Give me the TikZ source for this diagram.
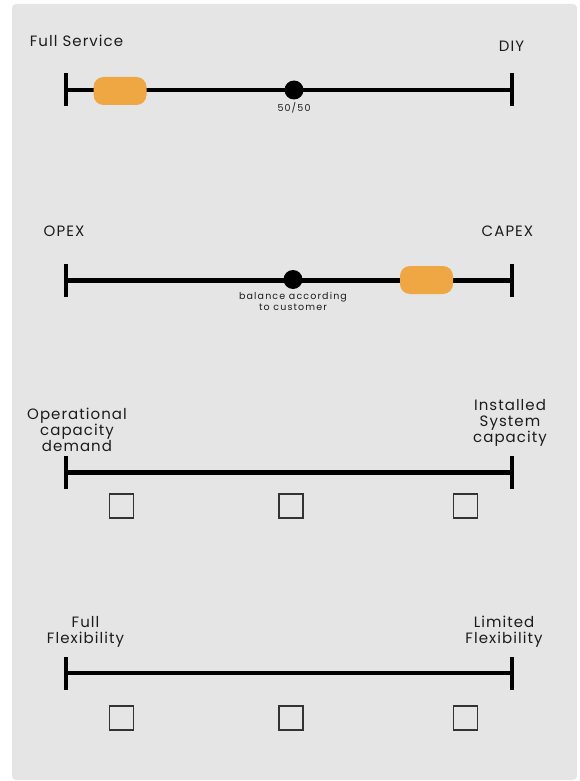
\documentclass[tikz,border=0pt]{standalone}
\usepackage{fontspec}
\setmainfont{Poppins}[LetterSpace=7]
\usetikzlibrary{positioning}
\definecolor{panelgray}{HTML}{E5E5E5}
\definecolor{pillorange}{HTML}{EFA743}
\definecolor{ink}{HTML}{1C1C1C}
\definecolor{boxline}{HTML}{333333}
\tikzset{
  scaleline/.style={line width=4.5pt, black},
  endtick/.style={
    fill=black,
    inner sep=0pt,
    minimum width=3.2pt,
    minimum height=33pt
  },
  pill/.style={
    fill=pillorange,
    rounded corners=10pt,
    inner sep=0pt,
    minimum width=53pt,
    minimum height=28pt
  },
  middot/.style={circle, fill=black, inner sep=0pt, minimum size=19pt},
  endlabel/.style={
    text=ink,
    align=center,
    inner sep=0pt,
    font=\fontsize{15}{16}\selectfont
  },
  smalllabel/.style={
    text=ink,
    align=center,
    inner sep=0pt,
    font=\fontsize{9.5}{11}\selectfont\addfontfeature{LetterSpace=12}
  },
  checkbox/.style={
    draw=boxline,
    line width=1.3pt,
    inner sep=0pt,
    minimum size=24pt
  },
  panel/.style={fill=panelgray, rounded corners=4pt}
}

\begin{document}
\begin{tikzpicture}[x=1pt, y=-1pt]
  % page and grey panel
  \fill[white] (0,0) rectangle (579,781);
  \useasboundingbox (0,0) rectangle (579,781);
  \fill[panel] (12,4) rectangle (577,780);

  % service model
  \node[endtick] (l1) at (66,90) {};
  \node[endtick] (r1) at (512,90) {};
  \draw[scaleline] (l1) -- (r1);
  \node[pill] (pos1) at (120,91) {};
  \node[middot] (mid1) at (294,90) {};
  \node[smalllabel, below=3pt of mid1] (mid1text) {50/50};
  \node[endlabel] (l1text) at (76.5,40.5) {Full Service};
  \node[endlabel] (r1text) at (511.5,46) {DIY};

  % cost model
  \node[endtick] (l2) at (66,280.5) {};
  \node[endtick] (r2) at (512,280.5) {};
  \draw[scaleline] (l2) -- (r2);
  \node[pill] (pos2) at (426.5,280) {};
  \node[middot] (mid2) at (293,279.5) {};
  \node[smalllabel, below=3pt of mid2] (mid2text) {balance according\\to customer};
  \node[endlabel] (l2text) at (64,231) {OPEX};
  \node[endlabel] (r2text) at (507.5,231) {CAPEX};

  % capacity
  \node[endtick] (l3) at (66,472.5) {};
  \node[endtick] (r3) at (512,472.5) {};
  \draw[scaleline] (l3) -- (r3);
  \node[endlabel] (l3text) at (77,430) {Operational\\capacity\\demand};
  \node[endlabel] (r3text) at (510,423) {Installed\\System\\capacity};
  \node[checkbox] (c31) at (121.5,506) {};
  \node[checkbox] (c32) at (291,506) {};
  \node[checkbox] (c33) at (465.5,506) {};

  % flexibility
  \node[endtick] (l4) at (66,673) {};
  \node[endtick] (r4) at (512,673) {};
  \draw[scaleline] (l4) -- (r4);
  \node[endlabel] (l4text) at (85.5,631.5) {Full\\Flexibility};
  \node[endlabel] (r4text) at (504,631.5) {Limited\\Flexibility};
  \node[checkbox] (c41) at (121.5,718) {};
  \node[checkbox] (c42) at (291,718) {};
  \node[checkbox] (c43) at (465.5,718) {};
\end{tikzpicture}
\end{document}
